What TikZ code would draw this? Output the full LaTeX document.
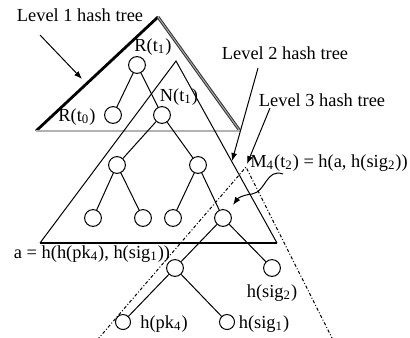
\documentclass[tikz,border=0pt]{standalone}
\usepackage{fontspec}
\setmainfont{Liberation Serif}
\usetikzlibrary{arrows.meta,positioning,calc}

\begin{document}
\begin{tikzpicture}[x=0.5pt, y=-0.5pt,
  hnode/.style={circle, draw, fill=white, minimum size=8.4pt, inner sep=0pt, line width=0.5pt},
  hlabel/.style={font=\fontsize{9.2}{10}\selectfont, inner sep=0pt},
  edge/.style={line width=0.5pt},
  pointer/.style={line width=0.5pt, -{Latex[length=4pt,width=3pt]}},
  lvlthree/.style={line width=0.5pt, dash pattern=on 1.6pt off 1pt on 0.5pt off 1pt}
]
  \useasboundingbox (0,0) rectangle (410,337);
  \clip (0,0) rectangle (410,337);

  % triangle corners
  \coordinate (l1top) at (158,17);
  \coordinate (l1left) at (36,131);
  \coordinate (l1right) at (240,131);
  \coordinate (l2top) at (176,61);
  \coordinate (l2left) at (40,243);
  \coordinate (l2right) at (277,243);
  \coordinate (l3top) at (246,167);
  \coordinate (l3left) at (92,346);
  \coordinate (l3right) at (336,346);

  % Level 1 hash tree
  \draw[line width=1.4pt] (l1left) -- (l1top);
  \draw[line width=1.5pt, black!80] (l1top) -- (l1right);
  \draw[line width=0.5pt, black!35] (l1top) -- (l1right);
  \draw[line width=1.4pt, black!70] (l1left) -- (l1right);
  \draw[line width=0.7pt, black!30] (l1left) -- (l1right);

  % Level 2 hash tree
  \draw[edge] (l2left) -- (l2top) -- (l2right);
  \draw[line width=1.2pt] (l2left) -- (l2right);

  % Level 3 hash tree
  \draw[lvlthree] (l3left) -- (l3top) -- (l3right);

  % nodes
  \node[hnode] (rt1) at (137,65) {};
  \node[hnode] (rt0) at (113,115) {};
  \node[hnode] (nt1) at (162,115) {};
  \node[hnode] (a1) at (117,165) {};
  \node[hnode] (a2) at (198,165) {};
  \node[hnode] (b1) at (93,218) {};
  \node[hnode] (b2) at (143,218) {};
  \node[hnode] (b3) at (173,218) {};
  \node[hnode] (b4) at (223,218) {};
  \node[hnode] (c1) at (175,268) {};
  \node[hnode] (c2) at (272,268) {};
  \node[hnode, minimum size=7.5pt] (d1) at (123,322) {};
  \node[hnode, minimum size=7.5pt] (d2) at (227,322) {};

  % tree edges
  \draw[edge] (rt1) -- (rt0);
  \draw[edge] (rt1) -- (nt1);
  \draw[edge] (nt1) -- (a1);
  \draw[edge] (nt1) -- (a2);
  \draw[edge] (a1) -- (b1);
  \draw[edge] (a1) -- (b2);
  \draw[edge] (a2) -- (b3);
  \draw[edge] (a2) -- (b4);
  \draw[edge] (b4) -- (c1);
  \draw[edge] (b4) -- (c2);
  \draw[edge] (c1) -- (d1);
  \draw[edge] (c1) -- (d2);

  % node labels
  \node[hlabel] (rt1lab) at (153,47) {R(t\textsubscript{1})};
  \node[hlabel] (rt0lab) at (77,117) {R(t\textsubscript{0})};
  \node[hlabel] (nt1lab) at (179,97) {N(t\textsubscript{1})};
  \node[hlabel] (alab) at (92,254) {a = h(h(pk\textsubscript{4}), h(sig\textsubscript{1}))};
  \node[hlabel] (c2lab) at (272,293) {h(sig\textsubscript{2})};
  \node[hlabel] (d1lab) at (164,324) {h(pk\textsubscript{4})};
  \node[hlabel] (d2lab) at (264,324) {h(sig\textsubscript{1})};
  \node[hlabel] (m4lab) at (329,163) {M\textsubscript{4}(t\textsubscript{2}) = h(a, h(sig\textsubscript{2}))};

  % level labels
  \node[hlabel] (l1lab) at (80,15) {Level 1 hash tree};
  \node[hlabel] (l2lab) at (285,53) {Level 2 hash tree};
  \node[hlabel] (l3lab) at (322,100) {Level 3 hash tree};

  % pointers
  \coordinate (p1s) at (40,35);
  \coordinate (p1e) at (82,79);
  \coordinate (p2s) at (258,68);
  \coordinate (p2e) at (232,161);
  \coordinate (p3s) at (270,108);
  \coordinate (p3e) at (247,164);
  \coordinate (m4s) at (283,174);
  \coordinate (m4e) at (233,205);
  \draw[pointer] (p1s) -- (p1e);
  \draw[pointer] (p2s) -- (p2e);
  \draw[pointer] (p3s) -- (p3e);
  \draw[pointer] (m4s) .. controls (266,168) and (266,192) .. (252,194)
    .. controls (243,195) and (238,198) .. (m4e);
\end{tikzpicture}
\end{document}
